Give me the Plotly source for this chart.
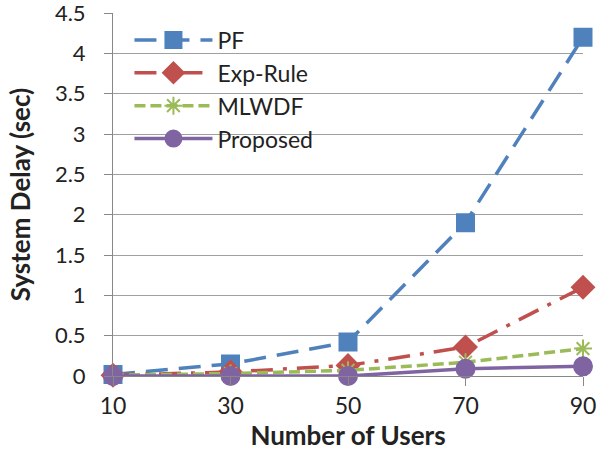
import plotly.graph_objects as go

users = [10, 30, 50, 70, 90]
pf = [0.02, 0.15, 0.42, 1.9, 4.2]
exp_rule = [0.01, 0.05, 0.13, 0.36, 1.1]
mlwdf = [0.01, 0.03, 0.07, 0.17, 0.34]
proposed = [0.0, 0.0, 0.0, 0.09, 0.12]

series = [
    ("PF", pf, "#4F81BD", "22px,11px", "square", 17),
    ("Exp-Rule", exp_rule, "#C0504D", "22px,10px,4px,10px", "diamond", 17),
    ("MLWDF", mlwdf, "#9BBB59", "11px,5px", "asterisk-open", 15),
    ("Proposed", proposed, "#8064A2", "solid", "circle", 18),
]

fig = go.Figure()
for name, vals, color, dash, sym, size in series:
    fig.add_trace(go.Scatter(
        x=users, y=vals, name=name, mode="lines+markers",
        line=dict(color=color, width=3.5, dash=dash),
        marker=dict(symbol=sym, size=size, color=color,
                    line=dict(color=color, width=2)),
        cliponaxis=False,
    ))

fig.update_layout(
    width=600, height=456,
    margin=dict(l=113, r=17, t=13, b=80),
    paper_bgcolor="white", plot_bgcolor="white",
    font=dict(family="Lato, sans-serif", size=23, color="#222"),
    legend=dict(x=0.035, y=0.985, xanchor="left", yanchor="top",
                bgcolor="rgba(255,255,255,0)", font=dict(size=23),
                itemwidth=78, tracegroupgap=0),
    xaxis=dict(
        range=[10, 90], tickvals=users, ticktext=[str(u) for u in users],
        showgrid=False, showline=True, linecolor="#888", linewidth=1,
        ticks="outside", ticklen=9, tickcolor="#888", automargin=False,
        ticklabelstandoff=0, ticklabeloverflow="allow", tickfont=dict(size=23),
        title=dict(text="<b>Number of Users</b>", font=dict(size=26), standoff=0),
        zeroline=False,
    ),
    yaxis=dict(
        range=[0, 4.5], tickvals=[0, 0.5, 1, 1.5, 2, 2.5, 3, 3.5, 4, 4.5],
        ticktext=["0", "0.5", "1", "1.5", "2", "2.5", "3", "3.5", "4", "4.5"],
        showgrid=True, gridcolor="#A0A0A0", gridwidth=1,
        showline=True, linecolor="#888", linewidth=1,
        ticks="outside", ticklen=8, tickcolor="#888", automargin=False,
        ticklabelstandoff=14, ticklabeloverflow="allow", tickfont=dict(size=22),
        title=dict(text="<b>System Delay (sec)</b>", font=dict(size=26), standoff=16),
        zeroline=False,
    ),
)

fig.write_html("out.html", config={"displayModeBar": False},
               post_script="document.body.style.margin='0';document.body.style.overflow='hidden';")
